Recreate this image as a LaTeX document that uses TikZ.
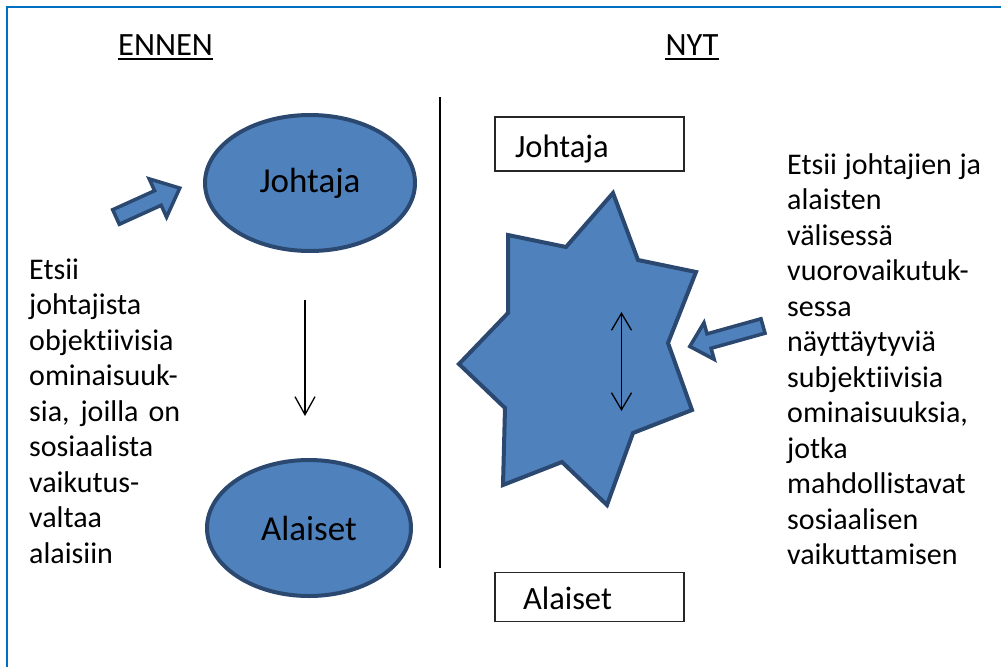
\documentclass[tikz,border=0pt]{standalone}
\usepackage{fontspec}
\setmainfont{Carlito}[Ligatures=NoCommon]
\usetikzlibrary{shapes.geometric,arrows.meta}
\definecolor{shapefill}{HTML}{4F81BD}
\definecolor{shapeline}{HTML}{2A4870}
\definecolor{frameblue}{HTML}{0070C0}
\begin{document}
\begin{tikzpicture}[x=1pt,y=-1pt,
  bluefill/.style={fill=shapefill, draw=shapeline, line width=4pt, line join=miter},
  txt/.style={font=\fontsize{30}{35.5}\selectfont, inner sep=0pt},
  titletxt/.style={font=\fontsize{32.5}{38}\selectfont, inner sep=0pt},
  bigtxt/.style={font=\fontsize{35}{40}\selectfont},
  oval/.style={bluefill, ellipse, inner sep=0pt, bigtxt},
  plainbox/.style={draw=black!85, line width=1.3pt, font=\fontsize{32.5}{38}\selectfont, align=left},
  thinarrow/.style={line width=1.3pt, -{Straight Barb[length=18pt,width=20pt,line width=1.3pt]}},
  twoarrow/.style={line width=1.3pt, {Straight Barb[length=17pt,width=20pt,line width=1.3pt]}-{Straight Barb[length=17pt,width=20pt,line width=1.3pt]}},
  blockarrow/.style={bluefill, line width=3.5pt}]
\useasboundingbox (0,0) rectangle (1001,667);
\fill[white] (0,0) rectangle (1001,667);
% frame
\draw[frameblue, line width=2.5pt] (7,667) -- (7,7) -- (1001,7);
% titles
\node[titletxt, anchor=base] (ennen) at (165.5,55) {ENNEN};
\draw[line width=2pt] ([yshift=-3.8pt]ennen.base west) -- ([yshift=-3.8pt]ennen.base east);
\node[titletxt, anchor=base] (nyt) at (692,55) {NYT};
\draw[line width=2pt] ([yshift=-3.8pt]nyt.base west) -- ([yshift=-3.8pt]nyt.base east);
% left side
\node[oval, minimum width=210pt, minimum height=136pt] (johE) at (310,183) {Johtaja};
\node[oval, minimum width=204pt, minimum height=136pt] (alaE) at (309,528) {Alaiset};
\coordinate (d1) at (305,300);
\coordinate (d2) at (305,416);
\draw[thinarrow] (d1) -- (d2);
\begin{scope}[shift={(116,217)}, rotate=24.4]
\draw[blockarrow] (0,-8) -- (46,-8) -- (46,-21) -- (70,0) -- (46,21) -- (46,8) -- (0,8) -- cycle;
\end{scope}
\node[txt, anchor=north west, align=left] (lefttext) at (29,254) {\rule{0pt}{25pt}Etsii\\
johtajista\\
objektiivisia\\
ominaisuuk-\\
\makebox[151pt][s]{sia, joilla on}\\
sosiaalista\\
vaikutus-\\
valtaa\\
alaisiin};
% separator
\coordinate (s1) at (440,97);
\coordinate (s2) at (440,568);
\draw[line width=2pt] (s1) -- (s2);
% right side
\node[plainbox, inner xsep=20pt, inner ysep=0pt, text width=149pt, text height=40pt, text depth=14pt] (johB) at (589.5,144) {Johtaja};
\node[plainbox, inner xsep=28pt, inner ysep=0pt, text width=133pt, text height=36.6pt, text depth=12.4pt] (alaB) at (589.5,597.2) {Alaiset};
\draw[bluefill] (613,193) -- (638,260) -- (696,272) -- (668,343) -- (692,410) -- (633,433) -- (607,505) -- (562,462) -- (503,485) -- (505,408) -- (459,364) -- (508,313) -- (508,235) -- (566,247) -- cycle;
\coordinate (u1) at (621.5,312);
\coordinate (u2) at (621.5,411);
\draw[twoarrow] (u1) -- (u2);
\begin{scope}[shift={(763,326)}, rotate=195.6]
\draw[blockarrow] (0,-7.5) -- (56,-7.5) -- (56,-19) -- (76,0) -- (56,19) -- (56,7.5) -- (0,7.5) -- cycle;
\end{scope}
\node[txt, anchor=north west, align=left] (righttext) at (787,149) {\rule{0pt}{25pt}\makebox[194pt][s]{Etsii johtajien ja}\\
alaisten\\
välisessä\\
vuorovaikutuk-\\
sessa\\
näyttäytyviä\\
subjektiivisia\\
ominaisuuksia,\\
jotka\\
mahdollistavat\\
sosiaalisen\\
vaikuttamisen};
\end{tikzpicture}
\end{document}
